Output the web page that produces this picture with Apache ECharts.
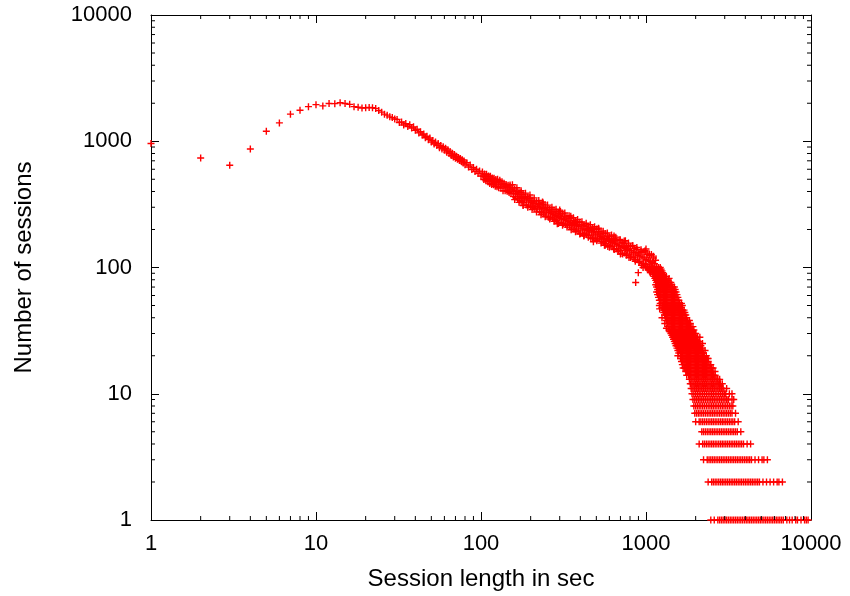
<!DOCTYPE html>
<html><head><meta charset="utf-8">
<script src="https://cdn.jsdelivr.net/npm/echarts@6/dist/echarts.min.js"></script>
<style>html,body{margin:0;padding:0;background:#fff}#c{width:850px;height:596px}</style>
</head><body><div id="c"></div>
<script>
// ---- tick labels ----
const xTickLabels = ['1', '10', '100', '1000', '10000'];
const yTickLabels = ['1', '10', '100', '1000', '10000'];
const xTitle = 'Session length in sec';
const yTitle = 'Number of sessions';

// ---- data: [session length (s), number of sessions] ----
const headPoints = [[1,960],[2,737],[3,645],[4,869],[5,1200],[6,1397],[7,1640],[8,1760],[9,1880],[10,1950],
 [11,1905],[12,1990],[13,1985],[14,2020],[15,1990],[16,1960],[17,1880],[18,1860],[19,1830],[20,1840],
 [21,1850],[22,1840],[23,1820],[24,1750],[25,1700],[26,1640],[27,1610],[28,1560],[29,1540],[30,1500]];

const slopePoints = [[31,1490],[32,1405],[33,1420],[34,1345],[35,1380],[36,1310],[37,1350],[38,1275],[39,1300],[40,1220],
 [41,1245],[42,1165],[43,1190],[44,1120],[45,1140],[46,1065],[47,1095],[48,1030],[49,1060],[50,985],
 [51,1015],[52,950],[53,985],[54,925],[55,960],[56,890],[57,925],[58,870],[59,905],[60,850],
 [61,880],[62,820],[63,855],[64,800],[65,830],[66,770],[67,805],[68,750],[69,785],[70,735],
 [71,760],[72,720],[73,745],[74,705],[75,730],[76,690],[77,715],[78,672],[79,698],[80,650],
 [82,675],[84,625],[86,648],[88,598],[90,620],[92,575],[94,600],[96,555],[98,580],[100,530]];

const bandUpper = [[102,572],[105,551],[108,548],[111,530],[114,528],[117,512],[120,510],[123,497],[126,500],[130,490],
 [134,478],[138,465],[142,455],[146,449],[150,441],[155,428],[160,418],[165,402],[170,396],[175,392],
 [180,379],[186,366],[192,362],[198,354],[204,342],[210,336],[217,331],[224,322],[231,314],[238,315],
 [245,302],[253,297],[261,289],[269,280],[277,278],[285,275],[294,268],[303,265],[312,266],[322,256],
 [332,251],[342,245],[352,246],[363,236],[374,232],[385,227],[397,228],[409,219],[421,216],[434,212],
 [447,204],[460,207],[474,204],[488,200],[503,202],[518,192],[534,188],[550,185],[566,186],[583,178],
 [600,175],[618,167],[637,169],[656,165],[676,163],[696,164],[717,157],[738,155],[760,148],[783,150],
 [806,147],[830,149],[855,142],[880,139],[906,131],[933,134],[960,132],[988,136],[1017,127],[1047,125],
 [1078,127],[1110,119],[1143,114]];

const bandMiddle = [[103,528],[106,520],[109,505],[112,500],[115,488],[118,482],[121,473],[124,470],[128,458],[132,452],
 [136,442],[140,436],[144,428],[148,418],[152,410],[157,398],[162,386],[167,377],[172,366],[177,358],
 [183,350],[189,342],[195,336],[201,329],[207,320],[213,312],[220,305],[227,298],[234,292],[241,286],
 [249,280],[257,274],[265,269],[273,263],[281,258],[289,254],[298,249],[307,245],[317,241],[327,237],
 [337,231],[347,226],[357,222],[368,218],[379,214],[391,210],[403,205],[415,202],[427,199],[440,197],
 [453,194],[467,191],[481,188],[495,184],[510,181],[526,177],[542,173],[558,170],[574,167],[591,164],
 [609,161],[627,158],[646,155],[666,152],[686,149],[706,146],[727,144],[749,141],[771,139],[794,136],
 [818,133],[842,131],[867,128],[893,125],[919,123],[946,121],[974,119],[1002,116],[1032,114],[1062,112],
 [1094,110],[1126,107]];

const bandLower = [[104,498],[107,487],[110,478],[113,462],[116,455],[119,452],[122,440],[125,436],[128,428],[132,425],
 [136,405],[140,405],[144,402],[148,392],[152,384],[157,366],[162,362],[167,352],[172,341],[177,335],
 [182,326],[188,312],[194,312],[200,306],[206,299],[212,293],[219,290],[226,278],[233,272],[240,266],
 [248,260],[256,250],[264,250],[272,246],[280,240],[288,236],[297,226],[306,228],[315,223],[325,219],
 [335,216],[345,215],[355,206],[366,202],[377,198],[388,195],[400,186],[412,187],[424,184],[437,182],
 [450,180],[463,171],[477,174],[492,171],[507,168],[522,168],[538,161],[554,158],[570,155],[587,147],
 [605,150],[623,147],[642,139],[661,141],[681,138],[701,136],[722,128],[744,130],[766,128],[789,120],
 [812,123],[836,120],[861,112],[886,115],[912,112],[939,104],[967,108],[995,106],[1024,99],[1054,102],
 [1085,100],[1117,98],[1148,92]];

const bandWideHigh = [[155,452],[165,428],[175,405],[186,388],[198,375],[210,356],[224,340],[238,324],[253,312],[269,300],
 [285,289],[303,278],[322,270],[342,257],[363,248],[385,240],[409,230],[434,224],[460,218],[488,210],
 [518,202],[550,194],[583,188],[618,181],[656,174],[696,167],[738,162],[783,156],[830,149],[880,144],
 [933,138],[988,133],[1047,128],[1110,123]];

const bandWideLow = [[160,345],[170,328],[180,312],[192,300],[204,288],[217,275],[231,262],[245,252],[261,242],[277,232],
 [294,223],[312,216],[332,209],[352,199],[374,192],[397,184],[421,179],[447,174],[474,169],[503,163],
 [534,156],[566,150],[600,145],[637,140],[676,134],[717,129],[760,125],[806,120],[855,116],[906,110],
 [960,107],[1017,102],[1078,99],[1130,95]];

const bandOutliers = [[150,450],[180,310],[236,330],[290,222],[300,285],[350,255],[420,178],[480,160],[515,205],
 [560,150],[640,178],[700,128],[750,163],[866,76],[898,91],[960,100],[1000,140],[1030,96]];

const tailOutliers = [[1330,33],[1250,40],[1210,47],[1300,36],[2120,28],[2200,25],[2280,22],[2380,19],[2450,17],
 [2550,16],[2620,15],[2700,13],[2800,12],[2870,11],[3000,10],[3150,9],[1560,24],[1640,20],[1720,16]];

// tail: [count, [session lengths having that count]]
const tailRows = [
 [100,[1000,1025,1050,1075,1100,1130,1160,1190,1220]],
 [97,[1037,1062,1088,1115,1145,1175,1205,1235]],
 [94,[1050,1075,1100,1130,1160,1190,1220,1250]],
 [91,[1062,1115,1145,1175,1205,1235,1265]],
 [88,[1100,1130,1160,1190,1220,1250,1280]],
 [85,[1115,1145,1175,1205,1235,1265,1295,1328]],
 [82,[1130,1160,1190,1220,1250,1280,1310,1380]],
 [79,[1145,1175,1205,1235,1265,1295,1328,1362]],
 [76,[1160,1190,1220,1250,1280,1310,1345,1380,1415]],
 [73,[1145,1175,1205,1235,1265,1295,1328,1362,1398,1432]],
 [70,[1160,1190,1220,1250,1280,1310,1345,1380,1415,1450,1485]],
 [67,[1175,1205,1235,1265,1295,1328,1362,1398,1432,1468,1502]],
 [64,[1160,1190,1220,1250,1280,1310,1345,1380,1415,1450,1485,1520]],
 [61,[1175,1205,1235,1265,1295,1328,1362,1398,1432,1468,1502,1540]],
 [58,[1190,1220,1250,1280,1310,1345,1380,1415,1450,1485,1520,1560]],
 [55,[1205,1235,1265,1295,1328,1362,1398,1432,1468,1502,1540,1580]],
 [52,[1220,1250,1280,1310,1345,1380,1415,1450,1485,1520,1560,1600,1640]],
 [50,[1205,1265,1295,1328,1362,1398,1432,1468,1502,1540,1580,1620,1660]],
 [48,[1250,1280,1310,1345,1380,1415,1450,1485,1520,1560,1600,1640]],
 [46,[1265,1295,1328,1362,1398,1432,1468,1502,1540,1580,1620,1660,1700]],
 [44,[1280,1310,1345,1380,1415,1450,1485,1520,1560,1600,1640,1680,1720]],
 [42,[1295,1328,1362,1398,1432,1468,1502,1540,1580,1620,1660,1700,1742]],
 [40,[1310,1345,1380,1415,1450,1485,1520,1560,1600,1640,1680,1720,1765]],
 [38,[1328,1362,1398,1432,1468,1502,1540,1580,1620,1660,1700,1742,1788,1832]],
 [36,[1345,1380,1415,1450,1485,1520,1560,1600,1640,1680,1720,1765,1810,1855]],
 [34,[1362,1398,1432,1468,1502,1540,1580,1620,1660,1700,1742,1788,1832,1878,1925]],
 [32,[1380,1415,1450,1485,1520,1560,1600,1640,1680,1720,1765,1810,1855,1900,1950]],
 [31,[1398,1432,1468,1502,1540,1580,1620,1660,1700,1742,1788,1832,1878,1925]],
 [30,[1415,1450,1485,1520,1560,1600,1640,1680,1720,1765,1810,1855,1900,1950,2000]],
 [29,[1432,1468,1502,1540,1580,1620,1660,1700,1742,1788,1832,1878,1925,1975]],
 [28,[1450,1485,1520,1560,1600,1640,1680,1720,1765,1810,1855,1900,1950,2000,2050]],
 [27,[1468,1502,1540,1580,1620,1660,1700,1742,1788,1832,1878,1925,1975,2025]],
 [26,[1485,1520,1560,1600,1640,1680,1720,1765,1810,1855,1900,1950,2000,2050,2100]],
 [25,[1502,1540,1580,1620,1660,1700,1742,1788,1832,1878,1925,1975,2025,2075,2125]],
 [24,[1520,1560,1600,1640,1680,1720,1765,1810,1855,1900,1950,2000,2050,2100,2150]],
 [23,[1540,1580,1620,1660,1700,1742,1788,1832,1878,1925,1975,2025,2075,2125,2178]],
 [22,[1560,1600,1640,1680,1720,1765,1810,1855,1900,1950,2000,2050,2100,2150,2205]],
 [21,[1580,1620,1660,1700,1742,1788,1832,1878,1925,1975,2025,2075,2125,2178,2232]],
 [20,[1560,1640,1680,1720,1765,1810,1855,1900,1950,2000,2050,2100,2150,2205,2260,2320]],
 [19,[1620,1660,1700,1742,1788,1832,1878,1925,1975,2025,2075,2125,2178,2232,2290,2350]],
 [18,[1640,1680,1720,1765,1810,1855,1900,1950,2000,2050,2100,2150,2205,2260,2320,2380]],
 [17,[1660,1700,1742,1788,1832,1878,1925,1975,2025,2075,2125,2178,2232,2290,2350,2410,2470]],
 [16,[1680,1720,1765,1810,1855,1900,1950,2000,2050,2100,2150,2205,2260,2320,2380,2440,2500]],
 [15,[1742,1788,1832,1878,1925,1975,2025,2075,2125,2178,2232,2290,2350,2410,2470,2530]],
 [14,[1765,1810,1855,1900,1950,2000,2050,2100,2150,2205,2260,2320,2380,2440,2500,2560,2625]],
 [13,[1832,1878,1925,1975,2025,2075,2125,2178,2232,2290,2350,2410,2470,2530,2592,2658,2725,2795]],
 [12,[1855,1900,1950,2000,2050,2100,2150,2205,2260,2320,2380,2440,2500,2560,2625,2690,2760,2830,2900]],
 [11,[1878,1925,1975,2025,2075,2125,2178,2232,2290,2350,2410,2470,2530,2592,2658,2725,2795,2865,2935,3082]],
 [10,[1900,1950,2000,2050,2100,2150,2205,2260,2320,2380,2440,2500,2560,2625,2690,2760,2830,2900,2970,3045,3200,3320]],
 [9,[1925,1975,2025,2075,2125,2178,2232,2290,2350,2410,2470,2530,2592,2658,2725,2795,2865,2935,3008,3082,3160,3320,3402]],
 [8,[1950,2000,2050,2100,2150,2205,2260,2320,2380,2440,2500,2560,2625,2690,2760,2830,2900,2970,3045,3120,3200,3280,3360]],
 [7,[1975,2025,2075,2125,2178,2232,2290,2350,2410,2470,2530,2592,2658,2725,2795,2865,2935,3008,3082,3160,3240,3320,3488]],
 [6,[2000,2100,2150,2205,2260,2320,2380,2440,2500,2560,2625,2690,2760,2830,2900,2970,3045,3120,3200,3280,3360,3445,3620]],
 [5,[2178,2232,2290,2350,2410,2470,2530,2592,2658,2725,2795,2865,2935,3008,3082,3160,3240,3320,3402,3488,3575,3755]],
 [4,[2100,2205,2260,2320,2380,2440,2500,2560,2625,2690,2760,2830,2900,2970,3045,3120,3200,3280,3360,3445,3530,3620,3710,3800,3900,4100,4305]],
 [3,[2232,2350,2410,2470,2530,2592,2658,2725,2795,2865,2935,3008,3082,3160,3240,3320,3402,3488,3575,3665,3755,3850,3950,4050,4150,4252,4358,4578,4810,5052,5180,5442]],
 [2,[2380,2500,2560,2625,2690,2760,2830,2900,2970,3045,3120,3200,3280,3360,3445,3530,3620,3710,3800,3900,4000,4100,4200,4305,4410,4520,4635,4750,4870,5115,5375,5650,5935,6235,6390,6710]],
 [1,[2470,2592,2725,2795,2865,2935,3008,3082,3160,3240,3320,3402,3488,3575,3665,3755,3850,3950,4050,4150,4252,4358,4465,4578,4692,4810,4930,5052,5180,5310,5442,5580,5720,5862,6008,6158,6312,6470,6630,6795,7140,7410,7690,8080,8280,8698,9138,9365,9600]]
];

// ---- build ----
const points = [].concat(headPoints, slopePoints, bandUpper, bandMiddle, bandLower, bandWideHigh, bandWideLow, bandOutliers, tailOutliers);
tailRows.forEach(r => r[1].forEach(x => points.push([x, r[0]])));

const minorVals = [];
[1, 10, 100, 1000].forEach(d => { for (let k = 2; k <= 9; k++) minorVals.push(d * k); });

const FONT = '"Liberation Sans", Arial, Helvetica, sans-serif';
const plus = 'path://M4,0H6V4H10V6H6V10H4V6H0V4H4Z';
const lbl = (arr) => (v) => arr[Math.round(Math.log10(v))];

function axisBase(extra) {
  return Object.assign({
    type: 'log', logBase: 10, min: 1, max: 10000,
    axisLine: { show: true, lineStyle: { color: '#000', width: 1 } },
    axisTick: { show: true, inside: true, length: 8, lineStyle: { color: '#000', width: 1 } },
    minorTick: { show: false },
    splitLine: { show: false },
    axisLabel: { show: false }
  }, extra);
}

const chart = echarts.init(document.getElementById('c'), null, { renderer: 'canvas' });
chart.setOption({
  animation: false,
  backgroundColor: '#fff',
  grid: { left: 151, right: 39, top: 15, bottom: 76, containLabel: false },
  xAxis: [
    axisBase({
      position: 'bottom',
      axisLabel: { show: true, color: '#000', fontSize: 22, fontFamily: FONT, margin: 13, formatter: lbl(xTickLabels) },
      name: xTitle, nameLocation: 'middle', nameGap: 47,
      nameTextStyle: { color: '#000', fontSize: 24, fontFamily: FONT }
    }),
    axisBase({ position: 'top' })
  ],
  yAxis: [
    axisBase({
      position: 'left',
      axisLabel: { show: true, color: '#000', fontSize: 22, fontFamily: FONT, margin: 19, formatter: lbl(yTickLabels) },
      name: yTitle, nameLocation: 'middle', nameGap: 115, nameRotate: 90,
      nameTextStyle: { color: '#000', fontSize: 24, fontFamily: FONT }
    }),
    axisBase({ position: 'right' })
  ],
  series: [
    {
      type: 'scatter', xAxisIndex: 0, yAxisIndex: 0, data: points,
      symbol: plus, symbolSize: 7, clip: false, large: false, progressive: 0,
      emphasis: { disabled: true },
      itemStyle: { color: '#ff0000', borderWidth: 0, borderColor: 'rgba(255,0,0,0)', opacity: 1 }
    },
    {
      type: 'custom', xAxisIndex: 0, yAxisIndex: 0, silent: true, clip: false, z: 5,
      data: minorVals.map(v => [v, 1]),
      renderItem: function (params, api) {
        const v = api.value(0);
        const b = api.coord([v, 1]);
        const t = api.coord([v, 10000]);
        const st = { stroke: '#000', lineWidth: 1, fill: null };
        return { type: 'group', children: [
          { type: 'line', shape: { x1: b[0], y1: b[1], x2: b[0], y2: b[1] - 4 }, style: st },
          { type: 'line', shape: { x1: t[0], y1: t[1], x2: t[0], y2: t[1] + 4 }, style: st }
        ]};
      }
    },
    {
      type: 'custom', xAxisIndex: 0, yAxisIndex: 0, silent: true, clip: false, z: 5,
      data: minorVals.map(v => [1, v]),
      renderItem: function (params, api) {
        const v = api.value(1);
        const l = api.coord([1, v]);
        const r = api.coord([10000, v]);
        const st = { stroke: '#000', lineWidth: 1, fill: null };
        return { type: 'group', children: [
          { type: 'line', shape: { x1: l[0], y1: l[1], x2: l[0] + 4, y2: l[1] }, style: st },
          { type: 'line', shape: { x1: r[0], y1: r[1], x2: r[0] - 4, y2: r[1] }, style: st }
        ]};
      }
    }
  ]
});
</script></body></html>
